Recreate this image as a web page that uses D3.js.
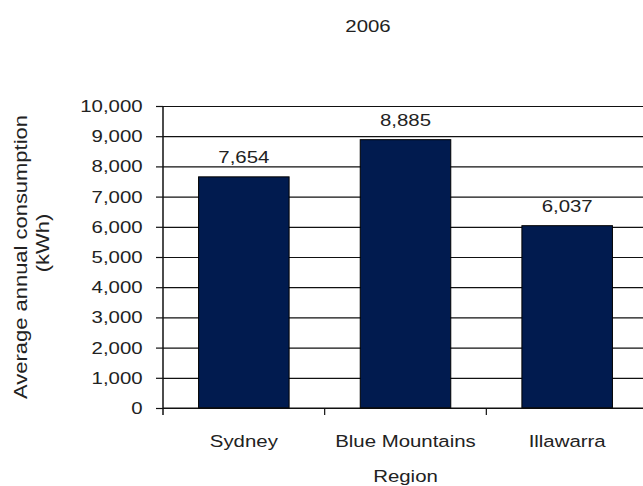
<!DOCTYPE html>
<html>
<head>
<meta charset="utf-8">
<script src="https://cdn.jsdelivr.net/npm/d3@7"></script>
<style>
  body { margin: 0; background: #fff; }
  text { font-family: Arial, "Liberation Sans", sans-serif; fill: #222; }
</style>
</head>
<body>
<svg id="chart" width="643" height="486"></svg>
<script>
const regions = ['Sydney', 'Blue Mountains', 'Illawarra'];
const consumption = [7654, 8885, 6037];
const yTicks = [0, 1000, 2000, 3000, 4000, 5000, 6000, 7000, 8000, 9000, 10000];
const chartTitle = '2006';
const xTitle = 'Region';
const yTitleLines = ['Average annual consumption', '(kWh)'];

const svg = d3.select('#chart');
const plotLeft = 163, plotRight = 648, plotTop = 106, plotBottom = 408;
const fontSize = 17;
const stretch = 1.2; // the original text is a bit wide

const x = d3.scaleBand()
    .domain(regions)
    .range([plotLeft, plotRight])
    .paddingInner(0.44)
    .paddingOuter(0.22);

const y = d3.scaleLinear()
    .domain([0, 10000])
    .range([plotBottom, plotTop]);

const fmt = d3.format(',');

// wide text placed at (tx, ty)
function wideText(parent, tx, ty, str) {
    return parent.append('text')
        .attr('transform', `translate(${tx},${ty}) scale(${stretch},1)`)
        .attr('text-anchor', 'middle')
        .attr('font-size', fontSize)
        .text(str);
}

// gridlines
svg.append('g')
    .attr('transform', `translate(${plotLeft},0)`)
    .call(d3.axisLeft(y).tickValues(yTicks).tickSize(-(plotRight - plotLeft)).tickFormat(''))
    .call(g => g.select('.domain').remove())
    .call(g => g.selectAll('line').attr('stroke', '#111').attr('stroke-width', 1.2));

// bars
svg.append('g').selectAll('rect')
    .data(regions)
    .join('rect')
    .attr('x', d => x(d))
    .attr('y', (d, i) => y(consumption[i]))
    .attr('width', x.bandwidth())
    .attr('height', (d, i) => plotBottom - y(consumption[i]))
    .attr('fill', '#011b4f')
    .attr('stroke', '#000')
    .attr('stroke-width', 1);

// value labels
const valueLabels = svg.append('g');
regions.forEach((d, i) => {
    wideText(valueLabels, x(d) + x.bandwidth() / 2, y(consumption[i]) - 14, fmt(consumption[i]));
});

// y axis
const yAxis = svg.append('g')
    .attr('transform', `translate(${plotLeft},0)`)
    .call(d3.axisLeft(y).tickValues(yTicks).tickSize(7).tickPadding(10).tickFormat(fmt));
yAxis.select('.domain').remove();
yAxis.selectAll('line').attr('stroke', '#111').attr('stroke-width', 1.2);
yAxis.selectAll('text')
    .attr('font-size', fontSize)
    .attr('font-family', null)
    .attr('transform', `scale(${stretch},1)`)
    .style('fill', '#222');

svg.append('line')
    .attr('x1', plotLeft).attr('x2', plotLeft)
    .attr('y1', plotTop).attr('y2', plotBottom + 7)
    .attr('stroke', '#111').attr('stroke-width', 1.5);

// x baseline and category separators
svg.append('line')
    .attr('x1', plotLeft).attr('x2', plotRight)
    .attr('y1', plotBottom).attr('y2', plotBottom)
    .attr('stroke', '#111').attr('stroke-width', 1.2);

const step = x.step();
svg.append('g').selectAll('line')
    .data(regions.slice(0, -1))
    .join('line')
    .attr('x1', d => x(d) + x.bandwidth() + step * x.paddingInner() / 2)
    .attr('x2', d => x(d) + x.bandwidth() + step * x.paddingInner() / 2)
    .attr('y1', plotBottom).attr('y2', plotBottom + 7)
    .attr('stroke', '#111').attr('stroke-width', 1.2);

// category labels
const catLabels = svg.append('g');
regions.forEach(d => wideText(catLabels, x(d) + x.bandwidth() / 2, 447, d));

// titles
wideText(svg, 368, 32, chartTitle);
wideText(svg, (plotLeft + plotRight) / 2, 482, xTitle);

// y title, two lines centred a little differently
const yCentres = [257, 243];
const yBaselines = [27, 49];
yTitleLines.forEach((line, i) => {
    svg.append('text')
        .attr('transform', `translate(${yBaselines[i]},${yCentres[i]}) rotate(-90) scale(1.22,1)`)
        .attr('text-anchor', 'middle')
        .attr('font-size', 18)
        .text(line);
});
</script>
</body>
</html>
